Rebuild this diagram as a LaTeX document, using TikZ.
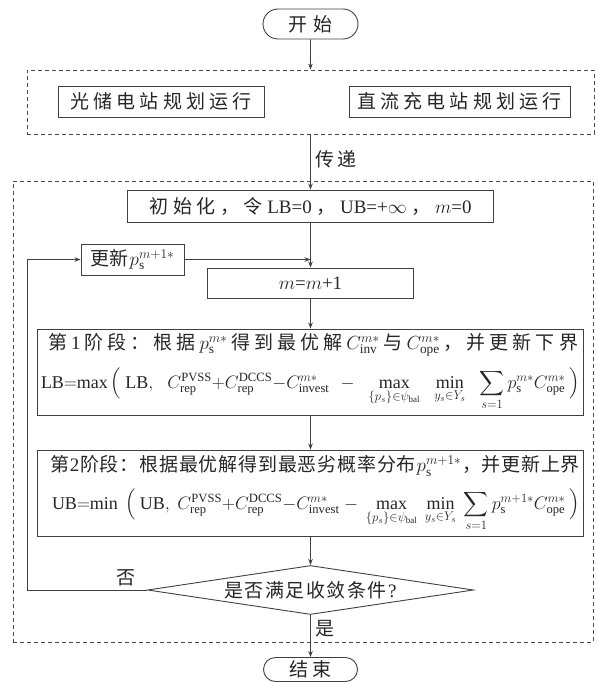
\documentclass[tikz,border=0pt]{standalone}
\usepackage{fix-cm}
\usepackage{amsmath}
\usepackage{exscale}
\usepackage{fontspec}
\setmainfont{Liberation Serif}
\newfontfamily\cjk{Noto Sans CJK SC}
\usetikzlibrary{arrows.meta,shapes.geometric,shapes.misc}
\makeatletter
\def\jc@stop{}
\newcommand\jc[1]{{\cjk\jc@#1\jc@stop}}
\def\jc@#1#2{#1\ifx\jc@stop#2\else\hfil\expandafter\jc@\expandafter#2\fi}
\makeatother
\newcommand\bigL{\left(\vrule height 17pt depth 11pt width 0pt\right.}
\newcommand\bigR{\left.\vrule height 17pt depth 11pt width 0pt\right)}
\newcommand\bsum{\mathop{\displaystyle\sum}\limits}
\tikzset{
  every node/.style={font=\fontsize{19}{22}\selectfont, text=black!85},
  box/.style={draw=black!75, line width=0.9pt, rectangle, inner sep=0pt},
  term/.style={draw=black!75, line width=0.9pt, rounded rectangle, inner sep=0pt},
  grp/.style={draw=black!70, line width=0.8pt, dash pattern=on 4pt off 3pt, rectangle, inner sep=0pt},
  conn/.style={draw=black!75, line width=0.9pt},
  arr/.style={conn, -{Stealth[length=6pt,width=4.5pt]}},
  txt/.style={inner sep=0pt},
  mline/.style={txt, anchor=base, font=\fontsize{18}{21}\selectfont},
}
\begin{document}
\begin{tikzpicture}[x=1pt,y=-1pt]
\useasboundingbox (0,0) rectangle (597,682);
% groups
\node[grp, minimum width=567pt, minimum height=64pt] (grp1) at (310.5,102) {};
\node[grp, minimum width=580pt, minimum height=461pt] (grp2) at (303,411.5) {};
% terminals
\node[term, minimum width=95pt, minimum height=30pt] (start) at (310.5,24) {\hbox to 44pt{\jc{开始}}};
\node[term, minimum width=94pt, minimum height=24pt] (end) at (310.5,669.5) {\hbox to 42pt{\jc{结束}}};
% top boxes
\node[box, minimum width=206pt, minimum height=31pt] (pv) at (161,101.5) {\hbox to 181pt{\jc{光储电站规划运行}}};
\node[box, minimum width=221pt, minimum height=31pt] (dc) at (459.5,101.5) {\hbox to 204pt{\jc{直流充电站规划运行}}};
\node[txt] (pass) at (336,159) {\hbox to 42pt{\jc{传递}}};
% init
\node[box, minimum width=366pt, minimum height=32pt] (init) at (310.5,206) {\hbox to 322pt{\jc{初始化，令}\hfil LB=0\hfil{\cjk ，}\hfil UB=+$\infty$\hfil{\cjk ，}\hfil$m$=0}};
\node[box, minimum width=103pt, minimum height=31pt] (upd) at (132.5,259.5) {\jc{更新}\kern1pt$p_{\mathrm{s}}^{m+1*}$};
\node[box, minimum width=206pt, minimum height=30pt] (mm) at (310.5,283) {$m$=$m$+1};
% stage 1
\node[box, minimum width=546pt, minimum height=86pt] (s1) at (310.5,372) {};
\node[txt] (s1a) at (313,345) {\hbox to 530pt{\jc{第}\hfil 1\hfil\jc{阶段：根据}\hfil$p_{\mathrm{s}}^{m*}$\hfil\jc{得到最优解}\hfil$C_{\mathrm{inv}}^{m*}$\hfil\jc{与}\hfil$C_{\mathrm{ope}}^{m*}$\hfil\jc{，并更新下界}}};
\node[mline] (s1b) at (310.5,388) {\hbox to 539pt{$\mathrm{LB{=}max}\bigL\mathrm{LB},\hfil C^{\mathrm{PVSS}}_{\mathrm{rep}}{+}C^{\mathrm{DCCS}}_{\mathrm{rep}}{-}C^{m*}_{\mathrm{invest}}\hfil{-}\hfil\max\limits_{\{p_s\}\in\psi_{\mathrm{bal}}}\hfil\min\limits_{y_s\in Y_s}\hfil\bsum_{s=1}p_{\mathrm{s}}^{m*}C^{m*}_{\mathrm{ope}}\bigR$}};
% stage 2
\node[box, minimum width=546pt, minimum height=86pt] (s2) at (310.5,493) {};
\node[txt] (s2a) at (315,466) {\hbox to 530pt{\jc{第}\hfil 2\hfil\jc{阶段：根据最优解得到最恶劣概率分布}\hfil$p_{\mathrm{s}}^{m+1*}$\hfil\jc{，并更新上界}}};
\node[mline] (s2b) at (316,509) {\hbox to 528pt{$\mathrm{UB{=}min}\ \bigL\mathrm{UB},\hfil C^{\mathrm{PVSS}}_{\mathrm{rep}}{+}C^{\mathrm{DCCS}}_{\mathrm{rep}}{-}C^{m*}_{\mathrm{invest}}\hfil{-}\hfil\max\limits_{\{p_s\}\in\psi_{\mathrm{bal}}}\hfil\min\limits_{y_s\in Y_s}\hfil\bsum_{s=1}p_{\mathrm{s}}^{m+1*}C^{m*}_{\mathrm{ope}}\bigR$}};
% decision
\node[diamond, draw=black!75, line width=0.9pt, aspect=6.65, minimum width=326pt, minimum height=49pt, inner sep=0pt] (dia) at (310.5,590) {\hbox to 172pt{\jc{是否满足收敛条件}\hfil?}};
\node[txt] (no) at (126,578) {\jc{否}};
\node[txt] (yes) at (325,629) {\jc{是}};
% connectors
\draw[arr] (start) -- (grp1.north);
\draw[arr] (grp1.south) -- (init.north);
\draw[arr] (init.south) -- (mm.north);
\draw[arr] (upd.east) -- (upd.east -| mm.north);
\draw[arr] (mm.south) -- (s1.north);
\draw[arr] (s1.south) -- (s2.north);
\draw[arr] (s2.south) -- (dia.north);
\draw[arr] (dia.south) -- (end.north);
\draw[arr] (dia.west) -- ++(-120,0) coordinate (fb) |- (upd.west);
\end{tikzpicture}
\end{document}
